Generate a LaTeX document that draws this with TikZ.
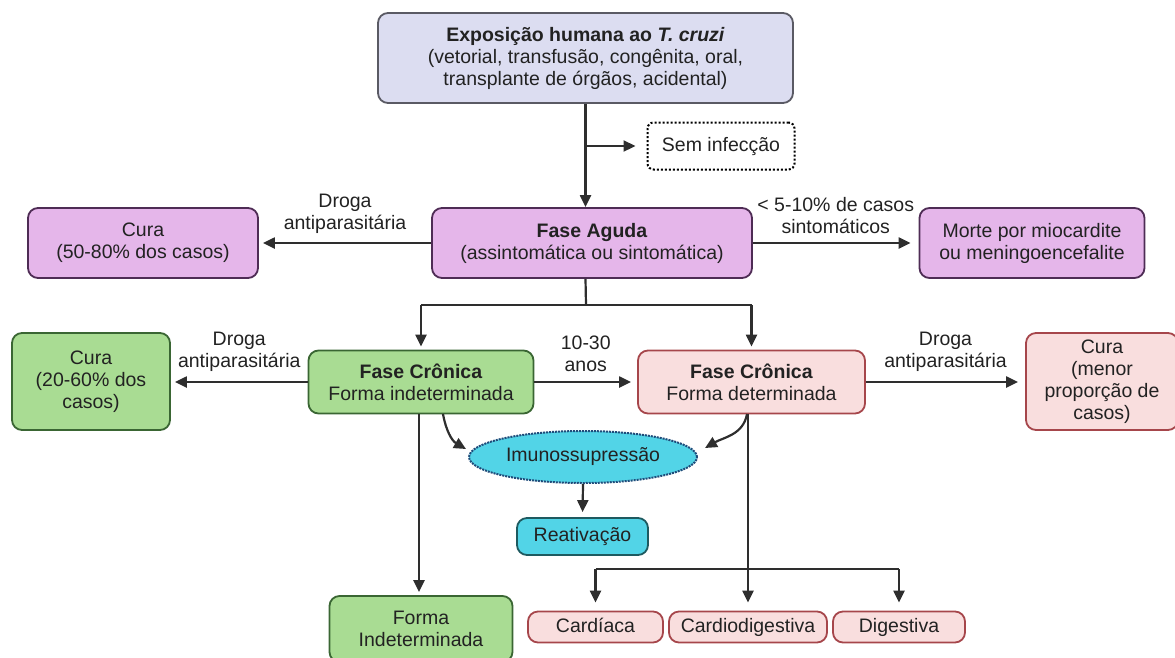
\documentclass[tikz,border=0pt]{standalone}
\usepackage{fontspec}
\setmainfont{Liberation Sans}
\usetikzlibrary{arrows.meta,shapes.geometric}
\definecolor{txtgray}{HTML}{222222}
\definecolor{arrgray}{HTML}{2E2E2E}
\definecolor{topfill}{HTML}{DCDDF1}
\definecolor{topline}{HTML}{5A5A64}
\definecolor{purfill}{HTML}{E5B6EA}
\definecolor{purline}{HTML}{4E2C55}
\definecolor{grnfill}{HTML}{A9DC93}
\definecolor{grnline}{HTML}{3A6633}
\definecolor{pnkfill}{HTML}{F9DEDE}
\definecolor{pnkline}{HTML}{A6464B}
\definecolor{cyafill}{HTML}{52D4E7}
\definecolor{cyaline}{HTML}{1F4C7A}
\definecolor{realine}{HTML}{1E5A60}

\begin{document}
\begin{tikzpicture}[x=1pt,y=-1pt,
  every node/.style={font=\fontsize{19.5}{22}\selectfont, text=txtgray},
  box/.style={draw, line width=1.8pt, rounded corners=10pt, align=center, inner sep=0pt},
  topbox/.style={box, fill=topfill, draw=topline},
  purbox/.style={box, fill=purfill, draw=purline},
  grnbox/.style={box, fill=grnfill, draw=grnline},
  pnkbox/.style={box, fill=pnkfill, draw=pnkline},
  formbox/.style={pnkbox, text height=14pt, text depth=4pt, minimum height=31},
  dotbox/.style={draw=black, dotted, line width=2pt, rounded corners=6pt, inner sep=0pt},
  lbl/.style={align=center, inner sep=0pt},
  arr/.style={-{Triangle[length=12pt,width=11pt]}, line width=2.2pt, draw=arrgray},
  ln/.style={line width=2.2pt, draw=arrgray}]
  \useasboundingbox (0,0) rectangle (1175,657);
  \clip (0,0) rectangle (1175,657);

  % boxes
  \node[topbox, minimum width=415, minimum height=90] (expo) at (585.5,58)
    {\textbf{Exposição humana ao \textit{T. cruzi}}\\(vetorial, transfusão, congênita, oral,\\transplante de órgãos, acidental)};
  \node[dotbox, minimum width=147, minimum height=47] (sem) at (721,146) {Sem infecção};
  \node[purbox, minimum width=320, minimum height=70] (aguda) at (592,243)
    {\textbf{Fase Aguda}\\(assintomática ou sintomática)};
  \node[purbox, minimum width=230, minimum height=70] (cura1) at (143,243) {Cura\\(50-80\% dos casos)};
  \node[purbox, minimum width=225, minimum height=70] (morte) at (1032,243)
    {Morte por miocardite\\ou meningoencefalite};
  \node[grnbox, minimum width=225, minimum height=63] (indet) at (421,382)
    {\textbf{Fase Crônica}\\Forma indeterminada};
  \node[grnbox, minimum width=158, minimum height=97] (cura2) at (91,381.5) {Cura\\(20-60\% dos\\casos)};
  \node[pnkbox, minimum width=227, minimum height=63] (det) at (751.5,382)
    {\textbf{Fase Crônica}\\Forma determinada};
  \node[pnkbox, minimum width=152, minimum height=97] (cura3) at (1102,381.5)
    {Cura\\(menor\\proporção de\\casos)};
  \node[ellipse, draw=cyaline, fill=cyafill, densely dotted, line width=2pt,
    minimum width=228, minimum height=52, inner sep=0pt] (imuno) at (583,457) {Imunossupressão};
  \node[box, fill=cyafill, draw=realine, minimum width=131, minimum height=37] (reat) at (582.5,536.5) {Reativação};
  \node[grnbox, minimum width=183, minimum height=66] (forma) at (421,629) {Forma\\Indeterminada};
  \node[formbox, minimum width=135] (card) at (595.5,627) {Cardíaca};
  \node[formbox, minimum width=158] (cdig) at (748,627) {Cardiodigestiva};
  \node[formbox, minimum width=132] (dig) at (899,627) {Digestiva};

  % connectors
  \draw[arr] (expo.south) -- (expo.south |- aguda.north);
  \coordinate (semfork) at (expo.south |- sem.west);
  \draw[arr, shorten >=11pt] (semfork) -- (sem.west);
  \draw[arr, shorten >=4pt] (aguda.west) -- node[lbl, above=8pt] {Droga\\antiparasitária} (cura1.east);
  \draw[arr, shorten >=8pt] (aguda.east) -- node[lbl, above=8pt] {< 5-10\% de casos\\sintomáticos} (morte.west);

  \coordinate (cronfork) at (586,305);
  \draw[ln] (expo.south |- aguda.south) -- (cronfork);
  \draw[ln] (indet.north |- cronfork) -- (det.north |- cronfork);
  \draw[arr, shorten >=3pt] (indet.north |- cronfork) -- (indet.north);
  \draw[arr, shorten >=3pt] (det.north |- cronfork) -- (det.north);

  \draw[arr, shorten >=4pt] (indet.west) -- node[lbl, above=9pt] {Droga\\antiparasitária} (indet.west -| cura2.east);
  \draw[arr, shorten >=6pt] (indet.east) -- node[lbl, above=9pt] {10-30\\anos} (det.west);
  \draw[arr, shorten >=7pt] (det.east) -- node[lbl, above=9pt] {Droga\\antiparasitária} (det.east -| cura3.west);

  \draw[arr] (443,414) to[out=-80, in=150] (466,449);
  \draw[arr] (747,414) to[out=-100, in=30] (705,448);
  \draw[arr, shorten >=5pt] (imuno.south) -- (reat.north);

  \draw[arr, shorten >=3pt] (419,414) -- (forma.north -| 419,0);
  \coordinate (clinfork) at (748,569);
  \draw[arr, shorten >=8pt] (748,414) -- (cdig.north);
  \draw[ln] (card.north |- clinfork) -- (dig.north |- clinfork);
  \draw[arr, shorten >=8pt] (card.north |- clinfork) -- (card.north);
  \draw[arr, shorten >=8pt] (dig.north |- clinfork) -- (dig.north);
\end{tikzpicture}
\end{document}
